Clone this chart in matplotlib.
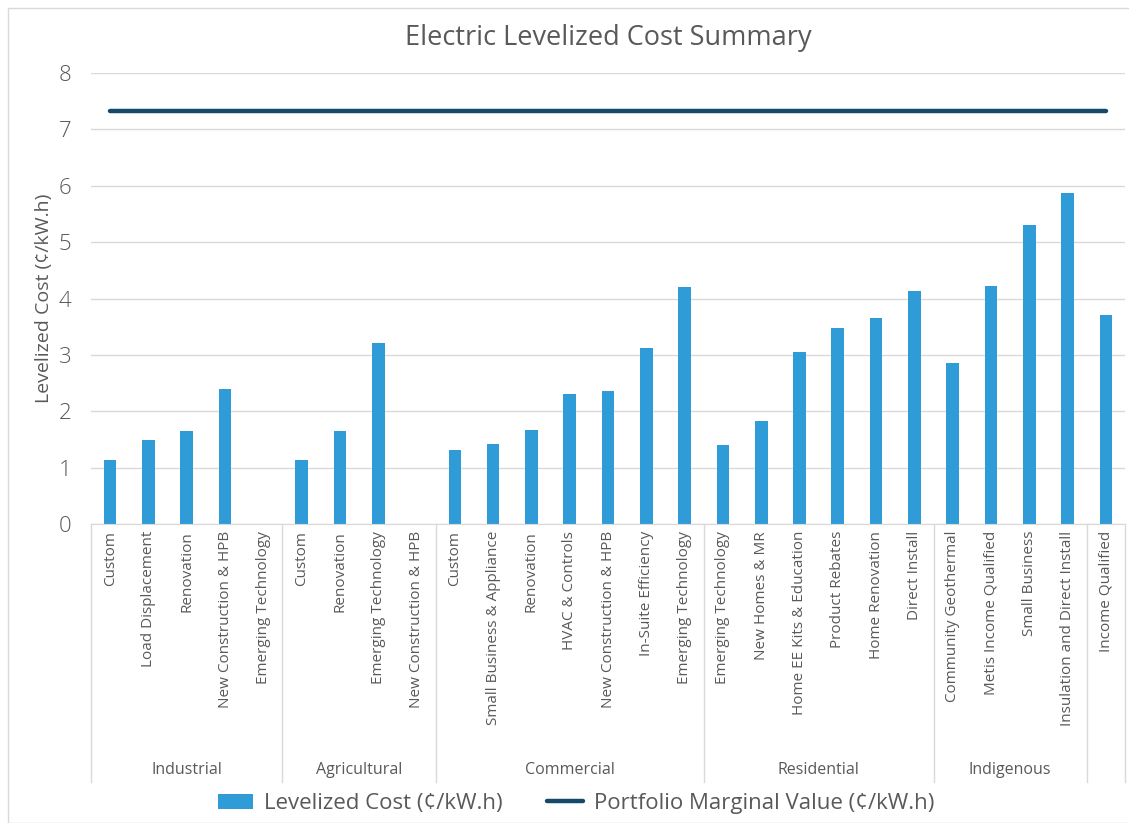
import matplotlib.pyplot as plt
import matplotlib.transforms as mtrans
from matplotlib.patches import Rectangle
import numpy as np

plt.rcParams['font.family'] = ['Open Sans', 'DejaVu Sans']

# program groups and their measures
groups = ['Industrial', 'Agricultural', 'Commercial', 'Residential', 'Indigenous', '']
programs = [
    ['Custom', 'Load Displacement', 'Renovation', 'New Construction & HPB', 'Emerging Technology'],
    ['Custom', 'Renovation', 'Emerging Technology', 'New Construction & HPB'],
    ['Custom', 'Small Business & Appliance', 'Renovation', 'HVAC & Controls',
     'New Construction & HPB', 'In-Suite Efficiency', 'Emerging Technology'],
    ['Emerging Technology', 'New Homes & MR', 'Home EE Kits & Education', 'Product Rebates',
     'Home Renovation', 'Direct Install'],
    ['Community Geothermal', 'Metis Income Qualified', 'Small Business', 'Insulation and Direct Install'],
    ['Income Qualified'],
]
levelized = [
    [1.14, 1.49, 1.65, 2.39, 0.0],
    [1.14, 1.65, 3.21, 0.0],
    [1.32, 1.42, 1.66, 2.30, 2.36, 3.13, 4.20],
    [1.40, 1.83, 3.05, 3.48, 3.66, 4.14],
    [2.85, 4.23, 5.30, 5.88],
    [3.70],
]
marginal_value = 7.33

labels = [p for g in programs for p in g]
values = [v for g in levelized for v in g]
x = np.arange(len(labels))
marginal = [marginal_value] * len(labels)

bar_color = '#2F9CD8'
line_color = '#15496A'
text_color = '#595959'
grid_color = '#D9D9D9'

fig = plt.figure(figsize=(11.29, 8.23), dpi=100)
fig.patches.append(Rectangle((8 / 1129, 0), 1.2, 1 - 8 / 823, transform=fig.transFigure,
                             fill=False, edgecolor='#D9D9D9', linewidth=1))
ax = fig.add_axes([0.0806, 0.3633, 0.9159, 0.548])

bars = ax.bar(x, values, width=0.33, color=bar_color, label='Levelized Cost (¢/kW.h)', zorder=2)
line, = ax.plot(x, marginal, color=line_color, linewidth=3.2, solid_capstyle='round',
                label='Portfolio Marginal Value (¢/kW.h)', zorder=3)

ax.set_xlim(-0.5, len(labels) - 0.5)
ax.set_ylim(0, 8)
ax.set_yticks(range(0, 9))
ax.yaxis.grid(True, color=grid_color, linewidth=1)
ax.set_axisbelow(True)
for s in ['top', 'right', 'left']:
    ax.spines[s].set_visible(False)
ax.spines['bottom'].set_color(grid_color)
ax.tick_params(axis='both', length=0, colors=text_color)
ax.tick_params(axis='y', labelsize=16, pad=14)
for t in ax.get_yticklabels():
    t.set_fontweight('light')
ax.set_xticks(x)
ax.set_xticklabels(labels, rotation=90, fontsize=11, va='top')
ax.tick_params(axis='x', pad=5)

ax.set_ylabel('Levelized Cost (¢/kW.h)', fontsize=14, color=text_color, labelpad=4)
ax.set_title('Electric Levelized Cost Summary', fontsize=19.5, color=text_color, pad=20)

# group brackets below the category labels
trans = mtrans.blended_transform_factory(ax.transData, ax.transAxes)
edges = np.cumsum([0] + [len(g) for g in programs]) - 0.5
for e in edges:
    ax.plot([e, e], [0, -0.572], transform=trans, color=grid_color, linewidth=1, clip_on=False)
for i, g in enumerate(groups):
    mid = (edges[i] + edges[i + 1]) / 2
    ax.text(mid, -0.545, g, transform=trans, ha='center', va='center',
            fontsize=11.5, color=text_color)

ax.legend(handles=[bars, line], loc='center', bbox_to_anchor=(0.469, -0.62), ncol=2,
          frameon=False, fontsize=16, labelcolor=text_color, handlelength=1.6,
          columnspacing=2.0, handletextpad=0.5)

fig.savefig('out.png', dpi=100)
